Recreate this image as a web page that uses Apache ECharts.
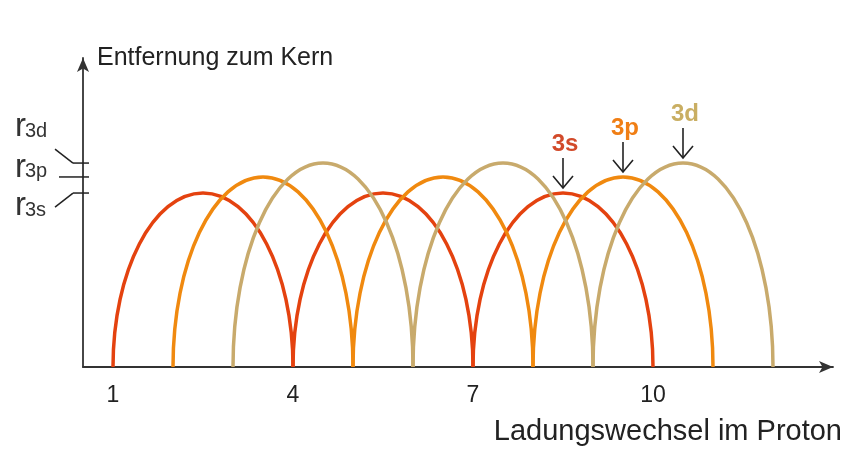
<!DOCTYPE html>
<html>
<head>
<meta charset="utf-8">
<script src="https://cdn.jsdelivr.net/npm/echarts@6.0.0/dist/echarts.min.js"></script>
<style>
  html, body { margin: 0; padding: 0; background: #fff; }
  #main { width: 858px; height: 449px; }
</style>
</head>
<body>
<div id="main"></div>
<script>
// orbitals and their radius (arbitrary units, axis 0..100)
var orbitals = ['3s', '3p', '3d'];
var radii = [56.3, 61.5, 66.0];
// charge change intervals covered by each arch
var arcs3s = [[1, 4], [4, 7], [7, 10]];
var arcs3p = [[2, 5], [5, 8], [8, 11]];
var arcs3d = [[3, 6], [6, 9], [9, 12]];
var arcSets = [arcs3s, arcs3p, arcs3d];
// where the labelled arrows point
var pointerX = [8.5, 9.5, 10.5];
var xTicks = [1, 4, 7, 10];

var lineColors = ['#e4420f', '#f0890f', '#c8aa6c'];
var labelColors = ['#d24a2a', '#f07e14', '#c9ae62'];
var axisColor = '#333';
var fontFamily = '"Liberation Sans", Arial, sans-serif';
var xMin = 0.5;

var chartDom = document.getElementById('main');
var myChart = echarts.init(chartDom);
var option;

function renderArch(params, api) {
  var x0 = api.value(0), x1 = api.value(1), h = api.value(2);
  var a = api.coord([x0, 0]);
  var b = api.coord([x1, 0]);
  var t = api.coord([(x0 + x1) / 2, h]);
  var k = 0.5523;
  var w = t[0] - a[0];
  var hh = a[1] - t[1];
  var style = { stroke: api.visual('color'), lineWidth: 3.5, fill: 'none' };
  return {
    type: 'group',
    children: [
      { type: 'bezierCurve', shape: { x1: a[0], y1: a[1], cpx1: a[0], cpy1: a[1] - k * hh, cpx2: t[0] - k * w, cpy2: t[1], x2: t[0], y2: t[1] }, style: style },
      { type: 'bezierCurve', shape: { x1: t[0], y1: t[1], cpx1: t[0] + k * w, cpy1: t[1], cpx2: b[0], cpy2: b[1] - k * hh, x2: b[0], y2: b[1] }, style: style }
    ]
  };
}

function renderPointer(params, api) {
  var idx = api.value(2);
  var p = api.coord([api.value(0), api.value(1)]);
  var tipY = p[1] - 5;
  var topY = tipY - 30;
  var line = { stroke: '#222', lineWidth: 1.6, fill: 'none' };
  return {
    type: 'group',
    children: [
      { type: 'line', shape: { x1: p[0], y1: topY, x2: p[0], y2: tipY }, style: line },
      { type: 'polyline', shape: { points: [[p[0] - 10, tipY - 12], [p[0], tipY], [p[0] + 10, tipY - 12]] }, style: line },
      { type: 'text', x: p[0] + 2, y: topY - 14, style: { text: orbitals[idx], fill: labelColors[idx], font: 'bold 24px ' + fontFamily, align: 'center', verticalAlign: 'middle' } }
    ]
  };
}

// leader line and label offsets for r3s, r3p, r3d
var leaderDy = [14, 0, -14];
var leaderDx = [-28, -24, -28];
var textDy = [19, -3, -30];

function renderRadius(params, api) {
  var idx = api.value(2);
  var p = api.coord([api.value(0), api.value(1)]);
  var x = p[0], y = p[1];
  var line = { stroke: '#222', lineWidth: 1.5 };
  var baseY = y + textDy[idx] + 9;
  return {
    type: 'group',
    children: [
      { type: 'line', shape: { x1: x - 10, y1: y, x2: x + 6, y2: y }, style: line },
      { type: 'line', shape: { x1: x + leaderDx[idx], y1: y + leaderDy[idx], x2: x - 10, y2: y }, style: line },
      { type: 'text', x: x - 68, y: baseY + 1, style: { text: 'r', fill: '#333', font: '33px ' + fontFamily, align: 'left', verticalAlign: 'bottom' } },
      { type: 'text', x: x - 58, y: baseY - 1, style: { text: orbitals[idx], fill: '#333', font: '20px ' + fontFamily, align: 'left', verticalAlign: 'bottom' } }
    ]
  };
}

var series = [];
for (var i = 0; i < orbitals.length; i++) {
  series.push({
    type: 'custom',
    name: orbitals[i],
    renderItem: renderArch,
    clip: false,
    itemStyle: { color: lineColors[i] },
    encode: { x: [0, 1], y: 2 },
    data: arcSets[i].map(function (arc) { return [arc[0], arc[1], radii[i]]; })
  });
}
series.push({
  type: 'custom',
  name: 'pointers',
  renderItem: renderPointer,
  clip: false,
  encode: { x: 0, y: 1 },
  data: pointerX.map(function (px, i) { return [px, radii[i], i]; })
});
series.push({
  type: 'custom',
  name: 'radii',
  renderItem: renderRadius,
  clip: false,
  encode: { x: 0, y: 1 },
  data: radii.map(function (r, i) { return [xMin, r, i]; })
});

option = {
  animation: false,
  backgroundColor: '#fff',
  grid: { left: 83, right: 25, top: 58, bottom: 82 },
  xAxis: {
    type: 'value',
    min: xMin,
    max: 13,
    name: 'Ladungswechsel im Proton',
    nameLocation: 'end',
    nameGap: 9,
    nameTextStyle: { fontSize: 29, color: '#222', fontFamily: fontFamily, align: 'right', verticalAlign: 'top', padding: [50, 0, 0, 0] },
    axisLine: { show: true, lineStyle: { color: axisColor, width: 1.8 }, symbol: ['none', 'arrow'], symbolSize: [9, 14] },
    axisTick: { show: false },
    splitLine: { show: false },
    axisLabel: { customValues: xTicks, fontSize: 23, color: '#222', fontFamily: fontFamily, margin: 17 }
  },
  yAxis: {
    type: 'value',
    min: 0,
    max: 100,
    name: 'Entfernung zum Kern',
    nameLocation: 'end',
    nameGap: 0,
    nameTextStyle: { fontSize: 25, color: '#222', fontFamily: fontFamily, align: 'left', verticalAlign: 'middle', padding: [0, 0, 0, 14] },
    axisLine: { show: true, lineStyle: { color: axisColor, width: 1.8 }, symbol: ['none', 'arrow'], symbolSize: [9, 14] },
    axisTick: { show: false },
    splitLine: { show: false },
    axisLabel: { show: false }
  },
  series: series
};

option && myChart.setOption(option);
</script>
</body>
</html>
